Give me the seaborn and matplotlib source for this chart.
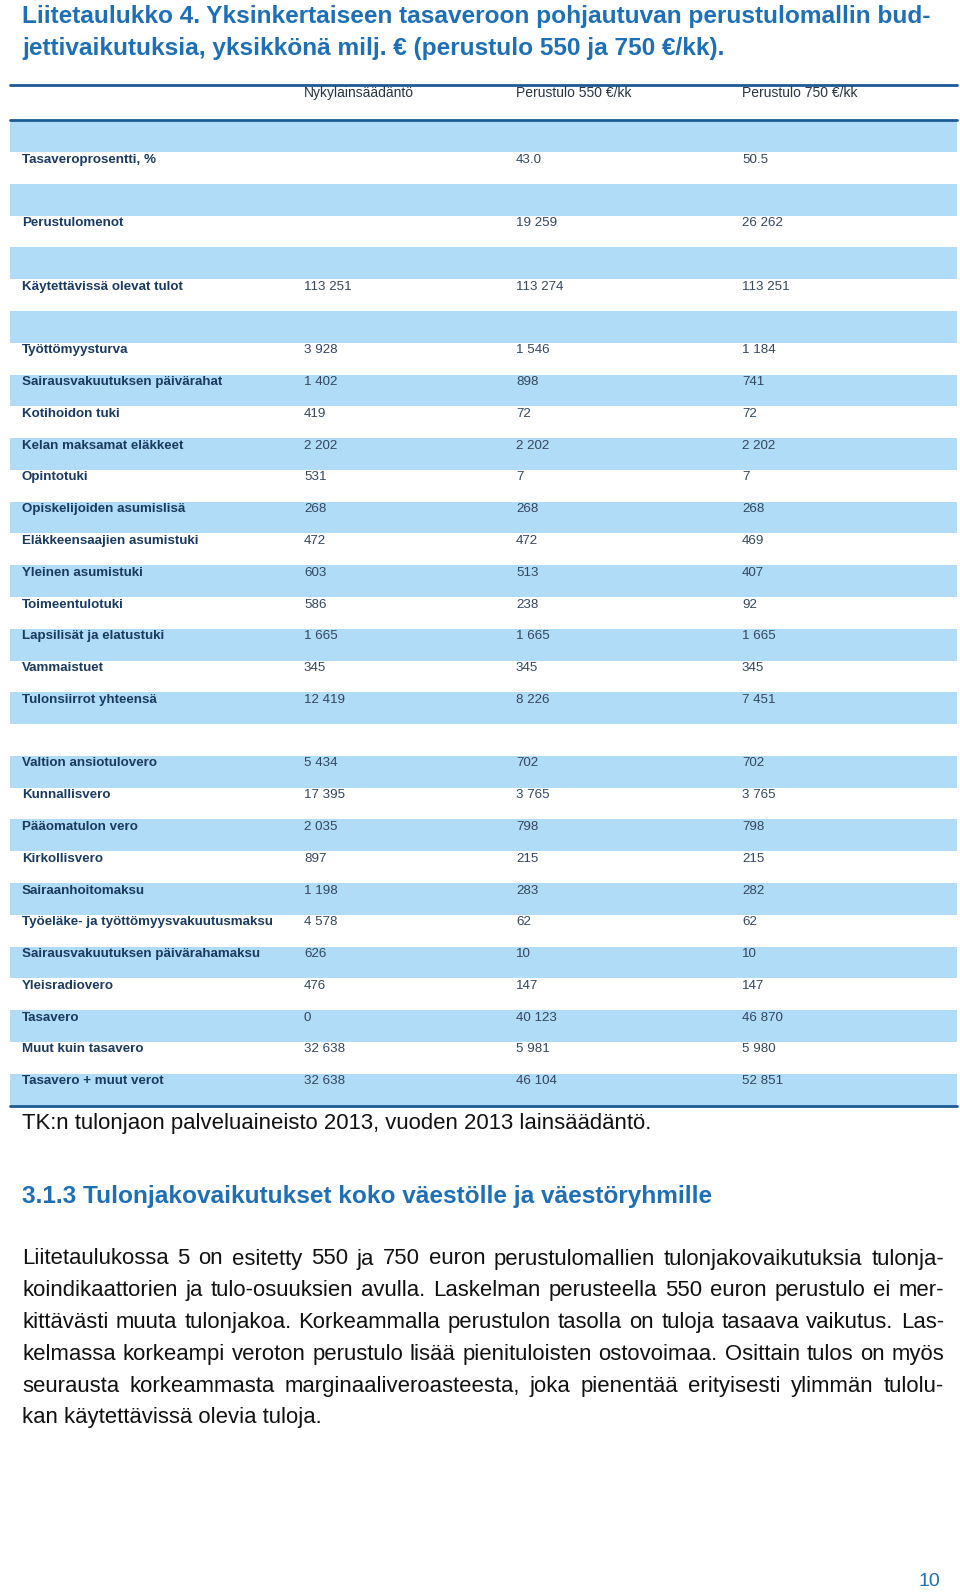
import numpy as np
import matplotlib
matplotlib.use("Agg")
import matplotlib.pyplot as plt
import matplotlib.transforms as mtransforms
from matplotlib.colors import ListedColormap
import seaborn as sns

# --- Sisältö ---
otsikko = [
    "Liitetaulukko 4. Yksinkertaiseen tasaveroon pohjautuvan perustulomallin bud-",
    "jettivaikutuksia, yksikkönä milj. € (perustulo 550 ja 750 €/kk).",
]
sarakkeet = ["Nykylainsäädäntö", "Perustulo 550 €/kk", "Perustulo 750 €/kk"]

rivit = [
    "", "Tasaveroprosentti, %", "", "Perustulomenot", "", "Käytettävissä olevat tulot", "",
    "Työttömyysturva", "Sairausvakuutuksen päivärahat", "Kotihoidon tuki",
    "Kelan maksamat eläkkeet", "Opintotuki", "Opiskelijoiden asumislisä",
    "Eläkkeensaajien asumistuki", "Yleinen asumistuki", "Toimeentulotuki",
    "Lapsilisät ja elatustuki", "Vammaistuet", "Tulonsiirrot yhteensä", "",
    "Valtion ansiotulovero", "Kunnallisvero", "Pääomatulon vero", "Kirkollisvero",
    "Sairaanhoitomaksu", "Työeläke- ja työttömyysvakuutusmaksu",
    "Sairausvakuutuksen päivärahamaksu", "Yleisradiovero", "Tasavero",
    "Muut kuin tasavero", "Tasavero + muut verot",
]
nykyinen = [
    None, None, None, None, None, 113251, None,
    3928, 1402, 419, 2202, 531, 268, 472, 603, 586, 1665, 345, 12419, None,
    5434, 17395, 2035, 897, 1198, 4578, 626, 476, 0, 32638, 32638,
]
pt550 = [
    None, 43.0, None, 19259, None, 113274, None,
    1546, 898, 72, 2202, 7, 268, 472, 513, 238, 1665, 345, 8226, None,
    702, 3765, 798, 215, 283, 62, 10, 147, 40123, 5981, 46104,
]
pt750 = [
    None, 50.5, None, 26262, None, 113251, None,
    1184, 741, 72, 2202, 7, 268, 469, 407, 92, 1665, 345, 7451, None,
    702, 3765, 798, 215, 282, 62, 10, 147, 46870, 5980, 52851,
]

lahde = "TK:n tulonjaon palveluaineisto 2013, vuoden 2013 lainsäädäntö."
alaotsikko = "3.1.3 Tulonjakovaikutukset koko väestölle ja väestöryhmille"
kappale = [
    "Liitetaulukossa 5 on esitetty 550 ja 750 euron perustulomallien tulonjakovaikutuksia tulonja-",
    "koindikaattorien ja tulo-osuuksien avulla. Laskelman perusteella 550 euron perustulo ei mer-",
    "kittävästi muuta tulonjakoa. Korkeammalla perustulon tasolla on tuloja tasaava vaikutus. Las-",
    "kelmassa korkeampi veroton perustulo lisää pienituloisten ostovoimaa. Osittain tulos on myös",
    "seurausta korkeammasta marginaaliveroasteesta, joka pienentää erityisesti ylimmän tulolu-",
    "kan käytettävissä olevia tuloja.",
]
sivunumero = "10"

# --- Tyylit ---
SININEN = "#1f6fb5"
RAITA = "#b0dcf8"
VIIVA = "#1d5b95"
NIMI_VARI = "#1a3a5e"
ARVO_VARI = "#34475e"

sns.set_theme(style="white")
plt.rcParams["font.family"] = ["Liberation Sans", "DejaVu Sans"]

W, H = 960, 1594
fig = plt.figure(figsize=(W / 100, H / 100), dpi=100)

# taulukon raidat (piirretään alle)
n = len(rivit) + 1
taulu_yla, taulu_ala = 88.5, 1105.5
riviko = (taulu_ala - taulu_yla) / n
ax_t = fig.add_axes([10 / W, 1 - taulu_ala / H, 947 / W, (taulu_ala - taulu_yla) / H])
raidat = (np.arange(n) % 2).reshape(-1, 1)
sns.heatmap(raidat, cmap=ListedColormap(["white", RAITA]), vmin=0, vmax=1,
            cbar=False, xticklabels=False, yticklabels=False, ax=ax_t)
ax_t.set_axis_off()
ylaviiva = (85 - taulu_yla) / riviko
for y in (ylaviiva, 1, n):
    ax_t.axhline(y, color=VIIVA, lw=2, clip_on=False)

# sivun tekstikerros pikselikoordinaatein
ax = fig.add_axes([0, 0, 1, 1])
ax.set_xlim(0, W)
ax.set_ylim(H, 0)
ax.set_axis_off()
ax.set_zorder(3)


def muotoile(v):
    if v is None:
        return ""
    if isinstance(v, float):
        return f"{v:.1f}"
    return f"{v:,}".replace(",", " ")


def sovita(t, leveys):
    r = fig.canvas.get_renderer()
    w = t.get_window_extent(r).width
    t.set_fontsize(t.get_fontsize() * leveys / w)
    return t.get_fontsize()


def tasaa(rivi, x0, x1, y, **kw):
    sanat = rivi.split(" ")
    tekstit = [ax.text(x0, y, s, **kw) for s in sanat]
    r = fig.canvas.get_renderer()
    lev = [t.get_window_extent(r).width for t in tekstit]
    vali = (x1 - x0 - sum(lev)) / (len(sanat) - 1)
    x = x0
    for t, w in zip(tekstit, lev):
        t.set_x(x)
        x += w + vali


# --- Otsikko ---
t1 = ax.text(22, 16, otsikko[0], fontsize=19, fontweight="bold",
             color=SININEN, va="center")
koko = sovita(t1, 905)
ax.text(22, 48, otsikko[1], fontsize=koko, fontweight="bold",
        color=SININEN, va="center")

# --- Taulukon tekstit ---
tr = mtransforms.blended_transform_factory(ax.transData, ax_t.transData)
x_sarake = [304, 516, 742]
dy = 0.236

for x, s in zip(x_sarake, sarakkeet):
    ax.text(x, (93 - taulu_yla) / riviko, s, transform=tr, fontsize=10,
            color="#2a3644", va="center")

for i, (nimi, a, b, c) in enumerate(zip(rivit, nykyinen, pt550, pt750), start=1):
    y = i + dy
    ax.text(22, y, nimi, transform=tr, fontsize=9.6, fontweight="bold",
            color=NIMI_VARI, va="center")
    for x, v in zip(x_sarake, (a, b, c)):
        ax.text(x, y, muotoile(v), transform=tr, fontsize=9.6,
                color=ARVO_VARI, va="center")

# --- Lähde ja leipäteksti ---
tl = ax.text(22, 1123, lahde, fontsize=15, color="#111111", va="center")
sovita(tl, 632)

ta = ax.text(22, 1197, alaotsikko, fontsize=koko, fontweight="bold",
             color=SININEN, va="center")
sovita(ta, 693)

viim = ax.text(22, 0, kappale[-1], fontsize=16, color="#111111", va="center")
kk = sovita(viim, 300)
viim.remove()
for j, rivi in enumerate(kappale):
    y = 1259 + j * 31.8
    if j < len(kappale) - 1:
        tasaa(rivi, 22, 944, y, fontsize=kk, color="#111111", va="center")
    else:
        ax.text(22, y, rivi, fontsize=kk, color="#111111", va="center")

ax.text(940, 1581, sivunumero, fontsize=14, color=SININEN, ha="right", va="center")

fig.savefig("out.png", dpi=100)
plt.close(fig)
